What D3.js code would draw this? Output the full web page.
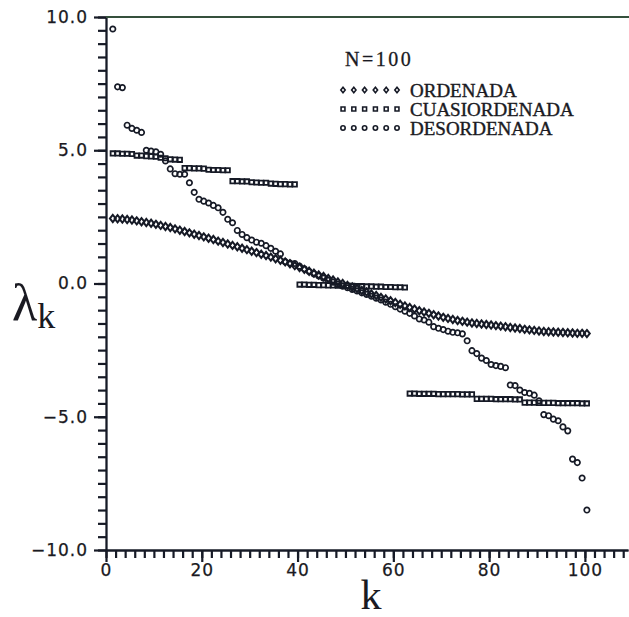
<!DOCTYPE html>
<html>
<head>
<meta charset="utf-8">
<script src="https://cdn.jsdelivr.net/npm/d3@7"></script>
<style>
  body { margin: 0; background: #fff; }
  svg { display: block; }
</style>
</head>
<body>
<svg width="629" height="617"></svg>
<script>
// eigenvalues lambda_k, k = 1..100
var ordenada = [
  2.44, 2.43, 2.42, 2.40, 2.38, 2.35, 2.32, 2.29, 2.26, 2.22,
  2.18, 2.14, 2.10, 2.05, 2.00, 1.95, 1.90, 1.85, 1.80, 1.75,
  1.70, 1.65, 1.59, 1.54, 1.48, 1.43, 1.38, 1.32, 1.27, 1.21,
  1.16, 1.10, 1.05, 0.99, 0.93, 0.87, 0.81, 0.74, 0.67, 0.60,
  0.53, 0.46, 0.39, 0.32, 0.26, 0.19, 0.13, 0.06, 0.00, -0.07,
  -0.13, -0.19, -0.26, -0.32, -0.39, -0.45, -0.52, -0.58, -0.65, -0.71,
  -0.78, -0.84, -0.90, -0.96, -1.02, -1.07, -1.12, -1.17, -1.22, -1.27,
  -1.31, -1.35, -1.39, -1.42, -1.45, -1.48, -1.50, -1.52, -1.54, -1.56,
  -1.58, -1.60, -1.62, -1.65, -1.67, -1.69, -1.72, -1.74, -1.76, -1.78,
  -1.80, -1.81, -1.82, -1.83, -1.84, -1.85, -1.86, -1.87, -1.87, -1.88
];
var cuasiordenada = [
  4.88, 4.88, 4.87, 4.87, 4.86, 4.80, 4.80, 4.78, 4.77, 4.76,
  4.72, 4.70, 4.66, 4.65, 4.64, 4.33, 4.33, 4.32, 4.32, 4.31,
  4.27, 4.26, 4.26, 4.25, 4.25, 3.84, 3.84, 3.83, 3.83, 3.80,
  3.79, 3.78, 3.78, 3.75, 3.74, 3.73, 3.73, 3.72, 3.72, -0.04,
  -0.04, -0.05, -0.05, -0.06, -0.06, -0.07, -0.07, -0.08, -0.08, -0.09,
  -0.09, -0.10, -0.10, -0.11, -0.11, -0.12, -0.12, -0.13, -0.13, -0.14,
  -0.14, -0.15, -4.13, -4.13, -4.14, -4.14, -4.14, -4.14, -4.15, -4.15,
  -4.15, -4.15, -4.15, -4.16, -4.16, -4.16, -4.33, -4.33, -4.33, -4.33,
  -4.34, -4.34, -4.34, -4.34, -4.35, -4.35, -4.47, -4.47, -4.47, -4.48,
  -4.48, -4.48, -4.48, -4.49, -4.49, -4.49, -4.49, -4.49, -4.50, -4.50
];
var desordenada = [
  9.55, 7.38, 7.35, 5.94, 5.82, 5.75, 5.67, 5.00, 4.97, 4.94,
  4.85, 4.60, 4.30, 4.12, 4.10, 4.10, 3.78, 3.42, 3.16, 3.09,
  3.02, 2.93, 2.84, 2.67, 2.41, 2.28, 1.99, 1.84, 1.72, 1.63,
  1.55, 1.51, 1.42, 1.32, 1.21, 1.11, 0.82, 0.77, 0.75, 0.65,
  0.55, 0.45, 0.36, 0.28, 0.20, 0.12, 0.05, -0.02, -0.10, -0.16,
  -0.22, -0.28, -0.35, -0.41, -0.48, -0.55, -0.62, -0.70, -0.78, -0.87,
  -0.96, -1.04, -1.12, -1.22, -1.33, -1.37, -1.45, -1.62, -1.68, -1.73,
  -1.79, -1.83, -1.85, -1.89, -2.15, -2.52, -2.63, -2.80, -2.89, -3.04,
  -3.08, -3.11, -3.16, -3.81, -3.83, -4.00, -4.09, -4.12, -4.19, -4.40,
  -4.92, -4.96, -5.09, -5.15, -5.38, -5.53, -6.59, -6.72, -7.30, -8.50
];
var xTicks = [0, 20, 40, 60, 80, 100];
var yTicks = [10, 5, 0, -5, -10];
var legendTitle = "N=100";
var legendLabels = ["ORDENADA", "CUASIORDENADA", "DESORDENADA"];

(function() {
  var svg = d3.select("svg"),
    ink = "#161a26";

  var x = d3.scaleLinear().domain([0, 109]).range([106, 628]);
  var y = d3.scaleLinear().domain([-10, 10]).range([550, 17]);

  // open diamond, a bit wider than d3's own
  var diamond = {
    draw: function(ctx, size) {
      var h = Math.sqrt(size) / 2, w = h * 0.8;
      ctx.moveTo(0, -h); ctx.lineTo(w, 0); ctx.lineTo(0, h); ctx.lineTo(-w, 0); ctx.closePath();
    }
  };
  var sizes = [52, 19, 23],
    types = [diamond, d3.symbolSquare, d3.symbolCircle],
    widths = [2, 1.8, 1.7];
  var series = [ordenada, cuasiordenada, desordenada];

  // axes: minor comb first, then major ticks with labels, each in its own group
  var yMinor = d3.range(-10, 10.01, 0.5), xMinor = d3.range(0, 109, 2);
  var axMinY = svg.append("g").attr("class", "minor").attr("transform", "translate(106,0)")
    .call(d3.axisLeft(y).tickValues(yMinor).tickSize(8).tickSizeOuter(0).tickFormat(""));
  var axMinX = svg.append("g").attr("class", "minor").attr("transform", "translate(0,550)")
    .call(d3.axisBottom(x).tickValues(xMinor).tickSize(8).tickSizeOuter(0).tickFormat(""));
  var axY = svg.append("g").attr("transform", "translate(106,0)")
    .call(d3.axisLeft(y).tickValues(yTicks).tickSize(12).tickSizeOuter(0).tickPadding(6).tickFormat(d3.format(".1f")));
  var axX = svg.append("g").attr("transform", "translate(0,550)")
    .call(d3.axisBottom(x).tickValues(xTicks).tickSize(12).tickSizeOuter(0).tickPadding(2));

  svg.selectAll(".domain").attr("stroke", ink).attr("stroke-width", 1.8);
  svg.selectAll(".tick line").attr("stroke", ink).attr("stroke-width", 2.2);
  svg.selectAll(".tick text")
      .attr("fill", "#1a1a22")
      .attr("stroke", "#1a1a22").attr("stroke-width", 0.25)
      .style("font-family", "'DejaVu Sans', sans-serif")
      .style("font-size", "17px")
      .style("letter-spacing", "1px");

  // top frame line
  svg.append("line")
      .attr("x1", 106).attr("x2", 629)
      .attr("y1", y(10)).attr("y2", y(10))
      .attr("stroke", "#35503c").attr("stroke-width", 1.8);

  // marks (plotter drew symbols ~2px right of the tick)
  var marks = svg.append("g").attr("transform", "translate(2,0)");
  series.forEach(function(vals, s) {
    marks.append("g").selectAll("path")
      .data(vals)
      .enter().append("path")
        .attr("transform", function(d, i) { return "translate(" + x(i + 1) + "," + y(d) + ")"; })
        .attr("d", d3.symbol().type(types[s]).size(sizes[s]))
        .attr("fill", "none")
        .attr("stroke", ink)
        .attr("stroke-width", widths[s]);
  });

  // legend
  var serif = "'Liberation Serif', 'DejaVu Serif', serif";
  svg.append("text")
      .attr("x", 345).attr("y", 66)
      .style("font-family", serif).style("font-size", "20px")
      .style("letter-spacing", "2.5px")
      .attr("fill", "#1a1a22")
      .attr("stroke", "#1a1a22").attr("stroke-width", 0.3)
      .text(legendTitle);

  var leg = svg.append("g").selectAll("g")
    .data(legendLabels)
    .enter().append("g")
      .attr("transform", function(d, i) { return "translate(0," + (90 + i * 19) + ")"; });

  leg.each(function(d, i) {
    d3.select(this).selectAll("path")
      .data(d3.range(6))
      .enter().append("path")
        .attr("transform", function(j) { return "translate(" + (343 + j * 10.8) + ",0)"; })
        .attr("d", d3.symbol().type(types[i]).size(i == 0 ? 30 : 15))
        .attr("fill", "none")
        .attr("stroke", ink)
        .attr("stroke-width", 1.6);
  });
  leg.append("text")
      .attr("x", 410).attr("y", 6.5)
      .style("font-family", serif).style("font-size", "19px")
      .attr("fill", "#1a1a22")
      .attr("stroke", "#1a1a22").attr("stroke-width", 0.4)
      .text(function(d) { return d; });

  // axis titles
  var ylab = svg.append("text")
      .attr("x", 12).attr("y", 320)
      .style("font-family", serif)
      .attr("fill", "#1a1a22");
  ylab.append("tspan").style("font-size", "52px").text("λ");
  ylab.append("tspan").attr("dy", 8).style("font-size", "36px").text("k");

  svg.append("text")
      .attr("x", 371).attr("y", 609)
      .attr("text-anchor", "middle")
      .style("font-family", serif).style("font-size", "42px")
      .attr("fill", "#1a1a22")
      .text("k");
})()
</script>
</body>
</html>
